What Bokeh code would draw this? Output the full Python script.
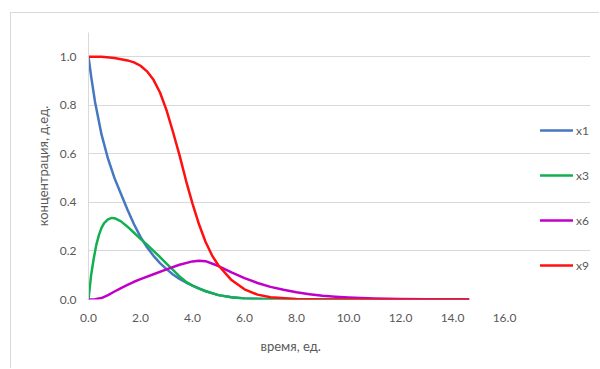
from bokeh.plotting import figure
from bokeh.models import Range1d, FixedTicker, NumeralTickFormatter, Legend, LegendItem, Title
from bokeh.embed import file_html
from bokeh.resources import INLINE

# ---- data ----
t_x1 = [0, 0.1, 0.25, 0.5, 0.75, 1.0, 1.25, 1.5, 1.75, 2.0, 2.25, 2.5, 2.75, 3.0, 3.25, 3.5, 3.75, 4.0, 4.5, 5.0, 5.5, 6.0, 7.0, 8.0, 10.0, 12.0, 14.6]
x1 = [1.0, 0.92, 0.815, 0.68, 0.58, 0.50, 0.435, 0.37, 0.31, 0.258, 0.215, 0.18, 0.15, 0.125, 0.103, 0.085, 0.07, 0.057, 0.034, 0.018, 0.009, 0.004, 0.001, 0.0, 0.0, 0.0, 0.0]

t_x3 = [0, 0.1, 0.2, 0.3, 0.4, 0.5, 0.6, 0.75, 0.9, 1.0, 1.25, 1.5, 1.75, 2.0, 2.25, 2.5, 2.75, 3.0, 3.25, 3.5, 3.75, 4.0, 4.25, 4.5, 5.0, 5.5, 6.0, 7.0, 8.0, 10.0, 12.0, 14.6]
x3 = [0.0, 0.1, 0.168, 0.225, 0.265, 0.295, 0.315, 0.33, 0.336, 0.335, 0.322, 0.30, 0.275, 0.25, 0.226, 0.20, 0.175, 0.148, 0.122, 0.095, 0.073, 0.057, 0.045, 0.035, 0.018, 0.009, 0.004, 0.001, 0.0, 0.0, 0.0, 0.0]

t_x6 = [0, 0.25, 0.5, 0.75, 1.0, 1.25, 1.5, 1.75, 2.0, 2.5, 3.0, 3.5, 4.0, 4.25, 4.5, 5.0, 5.5, 6.0, 6.5, 7.0, 7.5, 8.0, 8.5, 9.0, 9.5, 10.0, 11.0, 12.0, 13.0, 14.0, 14.6]
x6 = [0.0, 0.001, 0.006, 0.018, 0.033, 0.047, 0.06, 0.073, 0.084, 0.104, 0.124, 0.143, 0.157, 0.16, 0.158, 0.138, 0.112, 0.088, 0.068, 0.052, 0.04, 0.03, 0.022, 0.015, 0.011, 0.008, 0.004, 0.002, 0.001, 0.0005, 0.0]

t_x9 = [0, 0.5, 1.0, 1.5, 1.75, 2.0, 2.25, 2.5, 2.75, 3.0, 3.25, 3.5, 3.75, 4.0, 4.25, 4.5, 4.75, 5.0, 5.5, 6.0, 6.5, 7.0, 8.0, 9.0, 10.0, 12.0, 14.6]
x9 = [1.0, 1.0, 0.995, 0.985, 0.977, 0.963, 0.94, 0.905, 0.853, 0.78, 0.69, 0.595, 0.49, 0.395, 0.31, 0.238, 0.182, 0.14, 0.08, 0.042, 0.02, 0.009, 0.002, 0.0005, 0.0, 0.0, 0.0]

series_names = ["x1", "x3", "x6", "x9"]
series_colors = ["#4677c1", "#12b050", "#c000c8", "#ff1010"]

x_ticks = [0, 2, 4, 6, 8, 10, 12, 14, 16]
y_ticks = [0.0, 0.2, 0.4, 0.6, 0.8, 1.0]
x_title = "время, ед."
y_title = "концентрация, д.ед."

FONT = "Lato"
TXT = "#595959"
GRID = "#d9d9d9"

# frame: x from 0 (px 88) with 26 px per unit; extra room on the right holds the legend
p = figure(width=589, height=356, output_backend="svg", toolbar_location=None,
           x_range=Range1d(0, 502 / 26), y_range=Range1d(0, 1.1),
           min_border_left=77, min_border_top=19, min_border_bottom=70, min_border_right=10)
p.margin = (12, 0, 0, 10)
p.styles = {"border-left": "1px solid #d9d9d9", "border-top": "1px solid #d9d9d9"}
p.outline_line_color = None
p.background_fill_color = "white"
p.border_fill_color = "white"

renderers = []
for t, v, c in zip([t_x1, t_x3, t_x6, t_x9], [x1, x3, x6, x9], series_colors):
    r = p.line(t, v, line_color=c, line_width=2.5, line_join="round", line_cap="round")
    renderers.append(r)

# axes
p.xaxis.ticker = FixedTicker(ticks=x_ticks)
p.xaxis.formatter = NumeralTickFormatter(format="0.0")
p.xaxis.axis_line_color = None
p.xaxis.major_tick_line_color = None
p.xaxis.minor_tick_line_color = None
p.xaxis.major_tick_out = 0
p.xaxis.major_label_standoff = 14
p.xaxis.major_label_text_font = FONT
p.xaxis.major_label_text_font_size = "12px"
p.xaxis.major_label_text_color = TXT

p.yaxis.ticker = FixedTicker(ticks=y_ticks)
p.yaxis.formatter = NumeralTickFormatter(format="0.0")
p.yaxis.axis_line_color = GRID
p.yaxis.axis_line_width = 1
p.yaxis.major_tick_line_color = None
p.yaxis.minor_tick_line_color = None
p.yaxis.major_tick_out = 0
p.yaxis.major_label_standoff = 12
p.yaxis.major_label_text_font = FONT
p.yaxis.major_label_text_font_size = "12px"
p.yaxis.major_label_text_color = TXT
p.yaxis.axis_label = y_title
p.yaxis.axis_label_text_font = FONT
p.yaxis.axis_label_text_font_size = "13px"
p.yaxis.axis_label_text_font_style = "normal"
p.yaxis.axis_label_text_color = TXT
p.yaxis.axis_label_standoff = 6

p.xgrid.grid_line_color = None
p.ygrid.ticker = FixedTicker(ticks=y_ticks)
p.ygrid.grid_line_color = GRID
p.ygrid.bounds = (0, 16)

xt = Title(text=x_title, align="left", offset=172, text_font=FONT, text_font_size="13px",
           text_font_style="normal", text_color=TXT, standoff=22)
p.add_layout(xt, "below")

items = [LegendItem(label=n, renderers=[r]) for n, r in zip(series_names, renderers)]
legend = Legend(items=items, location=(452, 24), orientation="vertical",
                glyph_width=33, glyph_height=20, label_height=20, label_standoff=3,
                spacing=25, padding=0, margin=0, border_line_color=None,
                background_fill_alpha=0, label_text_font=FONT,
                label_text_font_size="12px", label_text_color=TXT)
p.add_layout(legend)

open("out.html", "w").write(file_html(p, INLINE))
